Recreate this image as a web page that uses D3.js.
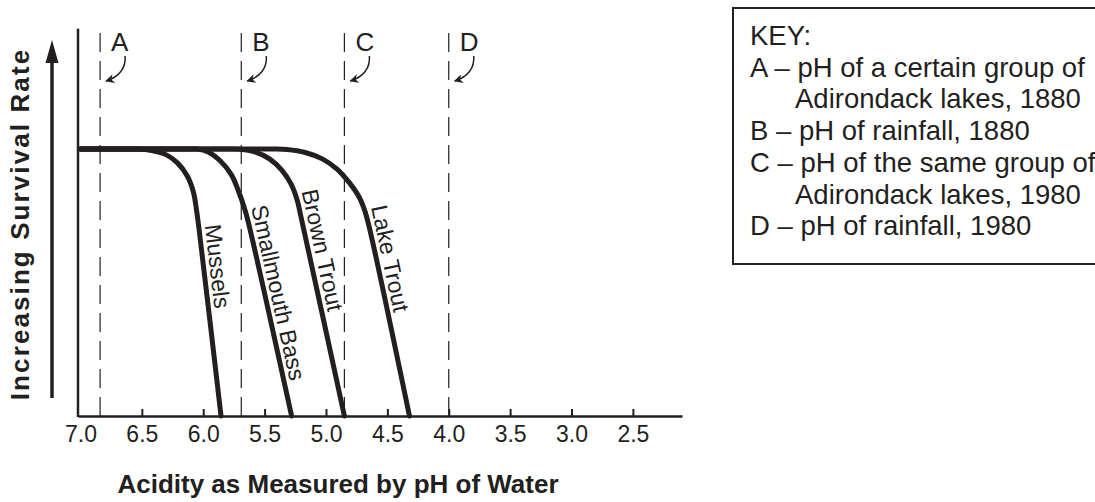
<!DOCTYPE html>
<html>
<head>
<meta charset="utf-8">
<script src="https://cdn.jsdelivr.net/npm/d3@7"></script>
<style>
  body { margin: 0; background: #fff; }
  svg { display: block; font-family: Arial, "Liberation Sans", Helvetica, sans-serif; }
</style>
</head>
<body>
<svg id="chart" width="1095" height="502"></svg>
<script>
// survival curves (rate: 100 = plateau)
const species = ['Mussels', 'Smallmouth Bass', 'Brown Trout', 'Lake Trout']
const musselsPH = [7.0, 6.61, 6.53, 6.42, 6.30, 6.21, 6.13, 6.08, 6.055, 6.035, 5.855]
const musselsRate = [100, 100, 100, 99.4, 97.8, 94.8, 89.9, 83.9, 77.2, 70.4, 0]
const bassPH = [7.0, 6.13, 6.05, 5.96, 5.86, 5.77, 5.71, 5.665, 5.635, 5.28]
const bassRate = [100, 100, 100, 98.9, 95.5, 90.3, 83.9, 77.9, 73.0, 0]
const brownPH = [7.0, 5.86, 5.78, 5.70, 5.58, 5.46, 5.36, 5.285, 5.235, 5.205, 4.85]
const brownRate = [100, 100, 100, 99.9, 98.9, 96.3, 92.1, 86.9, 80.9, 74.9, 0]
const lakePH = [7.0, 5.50, 5.42, 5.32, 5.17, 5.03, 4.91, 4.81, 4.73, 4.685, 4.65, 4.32]
const lakeRate = [100, 100, 100, 99.8, 98.7, 96.3, 92.5, 87.4, 82.0, 77.0, 71.2, 0]

// dashed pH markers
const markerNames = ['A', 'B', 'C', 'D']
const markerPH = [6.84, 5.69, 4.85, 4.0]

const tickPH = [7.0, 6.5, 6.0, 5.5, 5.0, 4.5, 4.0, 3.5, 3.0, 2.5]

const keyTitle = 'KEY:'
const keyLines = [
  'A – pH of a certain group of',
  'Adirondack lakes, 1880',
  'B – pH of rainfall, 1880',
  'C – pH of the same group of',
  'Adirondack lakes, 1980',
  'D – pH of rainfall, 1980'
]
const keyIndent = [false, true, false, false, true, false]

// how far (px) each curve label starts before the steep stretch
const labelShift = [2, 13, 24, 18]

const ink = '#231f20'
const svg = d3.select('#chart')

const x = d3.scaleLinear().domain([7.02, 2.1]).range([78, 682])
const y = d3.scaleLinear().domain([0, 100]).range([416, 149])
const yTop = 145

const series = [
  [musselsPH, musselsRate],
  [bassPH, bassRate],
  [brownPH, brownRate],
  [lakePH, lakeRate]
].map(([ph, rate], i) => ({
  name: species[i],
  values: ph.map((p, j) => ({ ph: p, rate: rate[j] }))
}))

// arrow marker for the little curved pointers
svg.append('defs')
  .append('marker')
  .attr('id', 'head')
  .attr('viewBox', '0 0 10 10')
  .attr('refX', 9)
  .attr('refY', 5)
  .attr('markerWidth', 9)
  .attr('markerHeight', 9)
  .attr('markerUnits', 'userSpaceOnUse')
  .attr('orient', 'auto')
  .append('path')
  .attr('d', 'M0,0 L10,5 L0,10 L3,5 z')
  .attr('fill', ink)

// dashed marker lines
const markers = svg.append('g')
markerPH.forEach((ph, i) => {
  const xd = x(ph)
  markers.append('line')
    .attr('x1', xd).attr('x2', xd)
    .attr('y1', y(0)).attr('y2', y(yTop))
    .attr('stroke', ink)
    .attr('stroke-width', 1.2)
    .attr('stroke-dasharray', '19,9')
  markers.append('text')
    .text(markerNames[i])
    .attr('x', xd + 11)
    .attr('y', 51)
    .attr('font-size', 26)
    .attr('fill', ink)
  markers.append('path')
    .attr('d', `M${xd + 25},56 C${xd + 26},68 ${xd + 19},77 ${xd + 6},81`)
    .attr('fill', 'none')
    .attr('stroke', ink)
    .attr('stroke-width', 1.5)
    .attr('marker-end', 'url(#head)')
})

// x axis
const xAxis = svg.append('g')
  .attr('transform', `translate(0, ${y(0)})`)
  .call(d3.axisBottom(x)
    .tickValues(tickPH)
    .tickFormat(d3.format('.1f'))
    .tickSizeInner(-7)
    .tickSizeOuter(0)
    .tickPadding(10))
xAxis.select('.domain').attr('stroke', ink).attr('stroke-width', 2.5)
xAxis.selectAll('.tick line').attr('stroke', ink).attr('stroke-width', 2)
xAxis.selectAll('.tick line').filter(d => d === 7.0).remove()
xAxis.selectAll('.tick text')
  .attr('font-size', 23)
  .attr('font-family', 'Arial, "Liberation Sans", sans-serif')
  .attr('fill', ink)

// y axis line
svg.append('line')
  .attr('x1', 78).attr('x2', 78)
  .attr('y1', y(0) + 1).attr('y2', y(yTop))
  .attr('stroke', ink)
  .attr('stroke-width', 2.5)

// upward arrow beside the y title
svg.append('line')
  .attr('x1', 52).attr('x2', 52)
  .attr('y1', 398).attr('y2', 58)
  .attr('stroke', ink)
  .attr('stroke-width', 3.5)
svg.append('path')
  .attr('d', 'M52,40 L45.5,63 L58.5,63 z')
  .attr('fill', ink)

// survival curves
const line = d3.line()
  .x(d => x(d.ph))
  .y(d => y(d.rate))
  .curve(d3.curveCatmullRom.alpha(0.5))

const curves = svg.append('g')
curves.selectAll('path')
  .data(series)
  .join('path')
  .attr('d', d => line(d.values))
  .attr('fill', 'none')
  .attr('stroke', ink)
  .attr('stroke-width', 5)
  .attr('stroke-linecap', 'round')
  .attr('stroke-linejoin', 'round')

// labels follow the steep last stretch of each curve
series.forEach((s, i) => {
  const n = s.values.length
  const p1 = [x(s.values[n - 2].ph), y(s.values[n - 2].rate)]
  const p2 = [x(s.values[n - 1].ph), y(s.values[n - 1].rate)]
  const ang = Math.atan2(p2[1] - p1[1], p2[0] - p1[0])
  const ux = Math.cos(ang), uy = Math.sin(ang)
  const nx = Math.sin(ang), ny = -Math.cos(ang)
  const tx = p1[0] - labelShift[i] * ux + 6 * nx
  const ty = p1[1] - labelShift[i] * uy + 6 * ny
  curves.append('text')
    .text(s.name)
    .attr('transform', `translate(${tx},${ty}) rotate(${ang * 180 / Math.PI})`)
    .attr('font-size', 23)
    .attr('fill', ink)
})

// axis titles
svg.append('text')
  .text('Acidity as Measured by pH of Water')
  .attr('x', 338)
  .attr('y', 493)
  .attr('text-anchor', 'middle')
  .attr('font-size', 26)
  .attr('font-weight', 'bold')
  .attr('fill', ink)

svg.append('text')
  .text('Increasing Survival Rate')
  .attr('transform', 'translate(29, 224) rotate(-90)')
  .attr('text-anchor', 'middle')
  .attr('font-size', 26)
  .attr('font-weight', 'bold')
  .attr('letter-spacing', 2.1)
  .attr('fill', ink)

// key box
const key = svg.append('g')
key.append('rect')
  .attr('x', 733).attr('y', 8)
  .attr('width', 420).attr('height', 256)
  .attr('fill', 'none')
  .attr('stroke', ink)
  .attr('stroke-width', 2)
key.append('text')
  .text(keyTitle)
  .attr('x', 750).attr('y', 45)
  .attr('font-size', 27.5)
  .attr('fill', ink)
keyLines.forEach((t, i) => {
  key.append('text')
    .text(t)
    .attr('x', keyIndent[i] ? 795 : 750)
    .attr('y', 45 + 31.7 * (i + 1))
    .attr('font-size', 27.5)
    .attr('fill', ink)
})
</script>
</body>
</html>
